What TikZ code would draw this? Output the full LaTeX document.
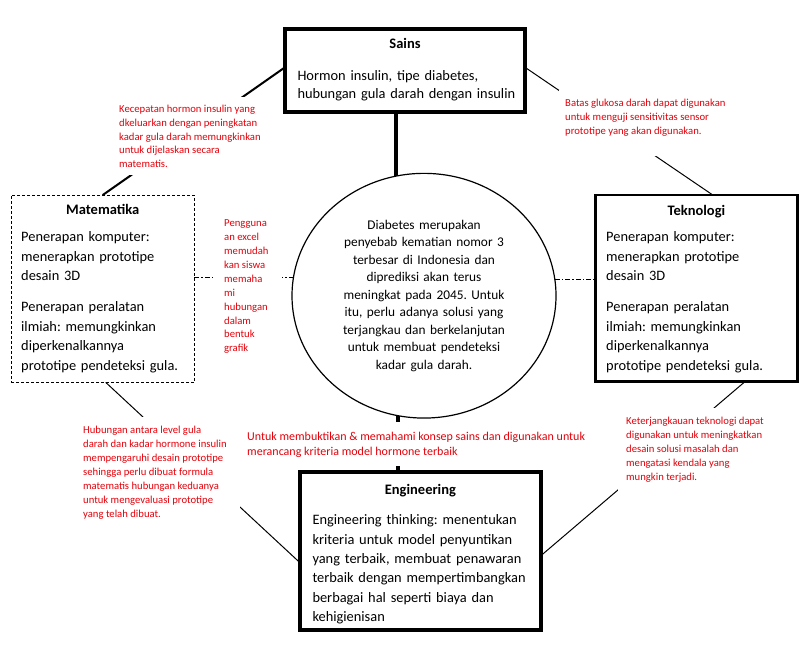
\documentclass[tikz,border=0pt]{standalone}
\usepackage{fontspec}
\setmainfont{Carlito}
\usetikzlibrary{shapes.geometric}
\pgfdeclarelayer{bg}
\pgfsetlayers{bg,main}
\definecolor{lblred}{RGB}{228,0,10}
\newcommand{\setfs}[2]{\fontsize{#1pt}{#2pt}\selectfont}
\newcommand{\firststrut}[1]{\rule{0pt}{#1pt}}
\hyphenpenalty=10000
\exhyphenpenalty=10000
\frenchspacing
\tikzset{
  boxnode/.style={draw, fill=white, inner sep=0pt, outer sep=0pt},
  titletext/.style={anchor=base, inner sep=0pt, font=\setfs{14.5}{19.5}\bfseries},
  bodytext/.style={anchor=north west, inner sep=0pt, align=left, font=\setfs{14.4}{#1}},
  redlbl/.style={anchor=north west, fill=white, inner xsep=#1, inner ysep=0pt, text=lblred, font=\setfs{10.67}{13.9}},
  thinlink/.style={line width=1pt},
  dashdotlink/.style={line width=0.8pt, dash pattern=on 5pt off 2pt on 1.5pt off 2pt},
}
\begin{document}
\frenchspacing
\begin{tikzpicture}[x=1pt, y=-1pt]
\useasboundingbox (0,0) rectangle (802,657);

% boxes
\node[boxnode, line width=4pt, minimum width=240pt, minimum height=83.3pt] (sains) at (405,70.3) {};
\node[boxnode, line width=4pt, minimum width=240.2pt, minimum height=158.6pt] (eng) at (420.4,551) {};
\node[boxnode, line width=2.5pt, minimum width=201.8pt, minimum height=186.5pt] (tek) at (696.4,288) {};
\node[boxnode, line width=1pt, dash pattern=on 3pt off 2pt, minimum width=183.3pt, minimum height=187.3pt] (mat) at (102.7,288.7) {};
\node[boxnode, ellipse, line width=1.2pt, minimum width=264pt, minimum height=244.7pt, text width=185pt, align=center, font=\setfs{13.33}{17.5}] (ell) at (424,295.7)
  {Diabetes merupakan\\penyebab kematian nomor 3\\terbesar di Indonesia dan\\diprediksi akan terus\\meningkat pada 2045. Untuk\\itu, perlu adanya solusi yang\\terjangkau dan berkelanjutan\\untuk membuat pendeteksi\\kadar gula darah.};

% connectors
\begin{pgfonlayer}{bg}
\draw[line width=2pt] ([yshift=3pt]sains.west) -- (mat.north);
\draw[thinlink] ([yshift=3pt]sains.east) -- ([xshift=16pt]tek.north);
\draw[line width=4pt] (ell.103.65) -- (ell.103.65 |- sains.south);
\draw[line width=4pt] (ell.258.24) -- (ell.258.24 |- eng.north);
\draw[dashdotlink] (ell.172.28 -| mat.east) -- (ell.172.28);
\draw[dashdotlink] (ell.7.72) -- (ell.7.72 -| tek.west);
\draw[thinlink] ([xshift=3pt]mat.south) -- ([yshift=-12pt]eng.west);
\draw[thinlink] ([xshift=49pt]tek.south) -- ([yshift=-5pt]eng.east);
\end{pgfonlayer}

% box texts
\node[titletext] (sainsT) at (405,48.5) {Sains};
\node[bodytext=18pt, text width=230pt] (sainsB) at (297.3,66)
  {\firststrut{14}Hormon insulin, tipe diabetes,\\hubungan gula darah dengan insulin};

\node[titletext] (matT) at (102.7,214) {Matematika};
\node[bodytext=19.5pt, text width=172pt] (matB) at (21,227.5)
  {\firststrut{14}Penerapan komputer:\\menerapkan prototipe\\desain 3D\\[11.5pt]Penerapan peralatan\\ilmiah: memungkinkan\\diperkenalkannya\\prototipe pendeteksi gula.};

\node[titletext] (tekT) at (696.4,215) {Teknologi};
\node[bodytext=19.5pt, text width=190pt] (tekB) at (606,227.5)
  {\firststrut{14}Penerapan komputer:\\menerapkan prototipe\\desain 3D\\[11.5pt]Penerapan peralatan\\ilmiah: memungkinkan\\diperkenalkannya\\prototipe pendeteksi gula.};

\node[titletext] (engT) at (420.4,494) {Engineering};
\node[bodytext=19.4pt, text width=228pt] (engB) at (312.3,510.5)
  {\firststrut{14}Engineering thinking: menentukan\\kriteria untuk model penyuntikan\\yang terbaik, membuat penawaran\\terbaik dengan mempertimbangkan\\berbagai hal seperti biaya dan\\kehigienisan};

% red labels
\node[redlbl=5pt] (lblA) at (114,97)
  {\begin{minipage}[t][78pt][t]{152pt}\raggedright\firststrut{15}Kecepatan hormon insulin yang\\dkeluarkan dengan peningkatan\\kadar gula darah memungkinkan\\untuk dijelaskan secara\\matematis.\end{minipage}};
\node[redlbl=6pt] (lblB) at (559,90)
  {\begin{minipage}[t][66pt][t]{172pt}\raggedright\firststrut{16}Batas glukosa darah dapat digunakan\\untuk menguji sensitivitas sensor\\prototipe yang akan digunakan.\end{minipage}};
\node[redlbl=11pt] (lblC) at (213,212)
  {\begin{minipage}[t][146pt][t]{47pt}\raggedright\firststrut{14.5}Pengguna\\an excel\\memudah\\kan siswa\\memaha\\mi\\hubungan\\dalam\\bentuk\\grafik\end{minipage}};
\node[redlbl=5pt] (lblD) at (78,417)
  {\begin{minipage}[t][108pt][t]{152pt}\raggedright\firststrut{16.5}Hubungan antara level gula\\darah dan kadar hormone insulin\\mempengaruhi desain prototipe\\sehingga perlu dibuat formula\\matematis hubungan keduanya\\untuk mengevaluasi prototipe\\yang telah dibuat.\end{minipage}};
\node[redlbl=5pt, font=\setfs{12}{15}] (lblE) at (242,422)
  {\begin{minipage}[t][44pt][t]{360pt}\raggedright\firststrut{18}Untuk membuktikan \& memahami konsep sains dan digunakan untuk\\merancang kriteria model hormone terbaik\end{minipage}};
\node[redlbl=8pt] (lblF) at (618,408)
  {\begin{minipage}[t][92pt][t]{147pt}\raggedright\firststrut{16.5}Keterjangkauan teknologi dapat\\digunakan untuk meningkatkan\\desain solusi masalah dan\\mengatasi kendala yang\\mungkin terjadi.\end{minipage}};
\end{tikzpicture}
\end{document}
